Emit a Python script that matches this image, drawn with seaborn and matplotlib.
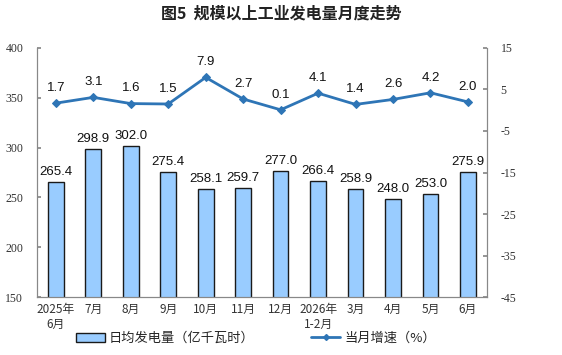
import numpy as np
import pandas as pd
import seaborn as sns
import matplotlib.pyplot as plt
from matplotlib.lines import Line2D
from matplotlib.patches import Patch

months = ['2025年\n6月', '7月', '8月', '9月', '10月', '11月', '12月',
          '2026年\n1-2月', '3月', '4月', '5月', '6月']
daily_output = [265.4, 298.9, 302.0, 275.4, 258.1, 259.7, 277.0,
                 266.4, 258.9, 248.0, 253.0, 275.9]
growth = [1.7, 3.1, 1.6, 1.5, 7.9, 2.7, 0.1, 4.1, 1.4, 2.6, 4.2, 2.0]

df = pd.DataFrame({'month': months, 'output': daily_output, 'growth': growth})

sns.set_theme(style='white')
plt.rcParams['font.family'] = ['Noto Sans CJK SC', 'DejaVu Sans']
plt.rcParams['axes.unicode_minus'] = False

bar_color = '#99CCFF'
line_color = '#2E75B6'

fig = plt.figure(figsize=(5.62, 3.55), dpi=100)
ax = fig.add_axes([0.066, 0.163, 0.800, 0.702])

sns.barplot(data=df, x='month', y='output', color=bar_color, width=0.42,
            edgecolor='#1a1a1a', linewidth=1.0, saturation=1, ax=ax)
ax.set_ylim(150, 400)
ax.set_yticks(range(150, 401, 50))
ax.set_xlim(-0.5, len(months) - 0.5)
ax.set_xlabel('')
ax.set_ylabel('')

for i, v in enumerate(daily_output):
    ax.text(i, v + 4, f'{v:.1f}', ha='center', va='bottom', fontsize=9.5,
            family='Liberation Sans', color='#111111')

ax2 = ax.twinx()
sns.lineplot(data=df, x='month', y='growth', color=line_color, linewidth=2,
             marker='D', markersize=4, markeredgecolor=line_color, sort=False, ax=ax2)
ax2.set_ylim(-45, 15)
ax2.set_yticks(range(-45, 16, 10))
ax2.set_ylabel('')

for i, v in enumerate(growth):
    ax2.text(i, v + 2.2, f'{v:.1f}', ha='center', va='bottom', fontsize=9.5,
             family='Liberation Sans', color='#111111')

for a in (ax, ax2):
    a.spines['top'].set_visible(False)
    for s in ('left', 'right', 'bottom'):
        a.spines[s].set_color('#888888')
        a.spines[s].set_linewidth(0.8)
    a.tick_params(axis='y', direction='in', length=3, color='#888888',
                  labelsize=8.5, pad=10, labelcolor='#333333')
    for lab in a.get_yticklabels():
        lab.set_family('Liberation Serif')

ax.set_xticks(np.arange(len(months)))
ax.set_xticklabels(months, fontsize=8.5, color='#333333', linespacing=1.2)
ax.tick_params(axis='x', length=0, pad=4)
ax.set_xticks(np.arange(-0.5, len(months), 1), minor=True)
ax.tick_params(axis='x', which='minor', direction='in', length=3, color='#888888')
ax.grid(False)
ax2.grid(False)

fig.suptitle('图5  规模以上工业发电量月度走势', fontsize=11.5, fontweight='bold',
             x=0.5, y=0.985, color='#222222')

handles = [Patch(facecolor=bar_color, edgecolor='#1a1a1a', linewidth=1.0),
           Line2D([0], [0], color=line_color, linewidth=2, marker='D', markersize=3)]
fig.legend(handles, ['日均发电量（亿千瓦时）', '当月增速（%）'], loc='lower center',
           bbox_to_anchor=(0.455, -0.005), ncol=2, frameon=False, fontsize=9.5,
           handlelength=2.2, handleheight=0.7, handletextpad=0.3, columnspacing=4.3)

fig.savefig('out.png', dpi=100)
